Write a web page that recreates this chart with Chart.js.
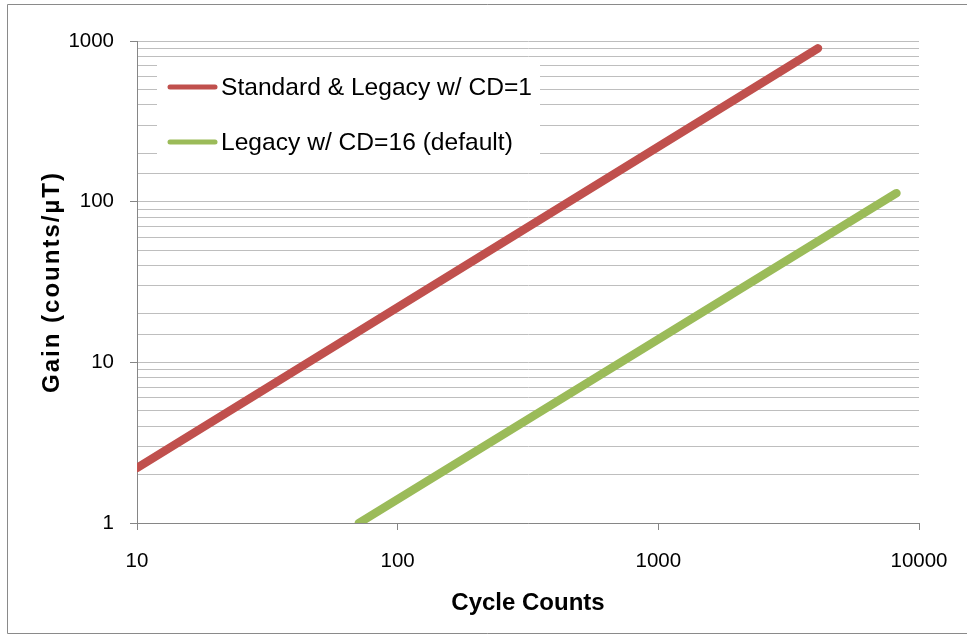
<!DOCTYPE html>
<html>
<head>
<meta charset="utf-8">
<script src="https://cdn.jsdelivr.net/npm/chart.js@4.4.0/dist/chart.umd.min.js"></script>
<style>
  html, body { margin: 0; padding: 0; background: #fff; }
  #wrap { width: 967px; height: 635px; }
</style>
</head>
<body>
<div id="wrap"><canvas id="myChart" width="967" height="635"></canvas></div>
<script>
// values (log-log, gain grows 1:1 with cycle counts)
const seriesNames = ['Standard & Legacy w/ CD=1', 'Legacy w/ CD=16 (default)'];
const seriesColors = ['#C0504D', '#9BBB59'];
const cd1Cycles = [10, 4096];
const cd1Gain = [2.2, 900];
const cd16Cycles = [71, 8192];
const cd16Gain = [1, 113];
const xTicks = [10, 100, 1000, 10000];
const yTicks = [1, 10, 100, 1000];

const FONT = "'Liberation Sans', Arial, sans-serif";
const isDecade = (v) => {
  const l = Math.log10(v);
  return Math.abs(l - Math.round(l)) < 1e-9;
};

const toPoints = (xs, ys) => xs.map((x, i) => ({ x: x, y: ys[i] }));

// frame around the whole picture
const framePlugin = {
  id: 'frame',
  beforeDraw(chart) {
    const c = chart.ctx;
    c.save();
    c.fillStyle = '#fff';
    c.fillRect(0, 0, chart.width, chart.height);
    c.strokeStyle = '#8a8a8a';
    c.lineWidth = 1;
    c.beginPath();
    c.moveTo(967, 4.5);
    c.lineTo(7.5, 4.5);
    c.lineTo(7.5, 633.5);
    c.lineTo(967, 633.5);
    c.stroke();
    c.restore();

    // the y title is set a bit wider in the original
    const ys = chart.scales.y;
    if (ys && !ys._spaced) {
      const orig = ys.drawTitle;
      ys.drawTitle = function () {
        this.ctx.save();
        this.ctx.letterSpacing = '2px';
        orig.call(this);
        this.ctx.restore();
      };
      ys._spaced = true;
    }
  },
};

// legend box sitting inside the plot, covering the gridlines
const legendPlugin = {
  id: 'boxLegend',
  beforeDatasetsDraw(chart) {
    const c = chart.ctx;
    c.save();
    c.fillStyle = '#fff';
    c.fillRect(157, 61, 383, 107);
    chart.data.datasets.forEach((ds, i) => {
      const y = 87 + i * 55;
      c.strokeStyle = ds.borderColor;
      c.lineWidth = 5;
      c.lineCap = 'round';
      c.beginPath();
      c.moveTo(170, y);
      c.lineTo(215, y);
      c.stroke();
      c.fillStyle = '#000';
      c.font = '24.6px ' + FONT;
      c.textBaseline = 'middle';
      c.fillText(ds.label, 221, y + 1);
    });
    c.restore();
  },
};

const ctx = document.getElementById('myChart').getContext('2d');
const myChart = new Chart(ctx, {
  type: 'line',
  data: {
    datasets: [
      {
        label: seriesNames[0],
        data: toPoints(cd1Cycles, cd1Gain),
        borderColor: seriesColors[0],
      },
      {
        label: seriesNames[1],
        data: toPoints(cd16Cycles, cd16Gain),
        borderColor: seriesColors[1],
      },
    ],
  },
  options: {
    responsive: false,
    animation: false,
    layout: { padding: { top: 41, right: 48, bottom: 0, left: 0 } },
    elements: {
      line: { borderWidth: 8.5, borderCapStyle: 'round', tension: 0 },
      point: { radius: 0 },
    },
    plugins: {
      legend: { display: false },
      tooltip: { enabled: false },
    },
    scales: {
      x: {
        type: 'logarithmic',
        min: xTicks[0],
        max: xTicks[xTicks.length - 1],
        afterFit: (s) => { s.height = 112; },
        border: { color: '#868686', width: 1 },
        grid: {
          drawOnChartArea: false,
          tickLength: 7,
          tickColor: (c) => (isDecade(c.tick.value) ? '#868686' : 'rgba(0,0,0,0)'),
        },
        ticks: {
          autoSkip: false,
          maxRotation: 0,
          padding: 19,
          color: '#000',
          font: { family: FONT, size: 20.5 },
          callback: (v) => (xTicks.includes(v) ? String(v) : ''),
        },
        title: {
          display: true,
          text: 'Cycle Counts',
          color: '#000',
          font: { family: FONT, size: 24, weight: 'bold' },
          padding: { top: 0, bottom: 17 },
        },
      },
      y: {
        type: 'logarithmic',
        min: yTicks[0],
        max: yTicks[yTicks.length - 1],
        afterFit: (s) => { s.width = 137; },
        border: { color: '#868686', width: 1 },
        grid: {
          color: '#BEBEBE',
          lineWidth: 1,
          tickLength: 7,
          tickColor: (c) => (isDecade(c.tick.value) ? '#868686' : 'rgba(0,0,0,0)'),
        },
        ticks: {
          autoSkip: false,
          padding: 16,
          color: '#000',
          font: { family: FONT, size: 20.5 },
          callback: (v) => (yTicks.includes(v) ? String(v) : ''),
        },
        title: {
          display: true,
          text: 'Gain (counts/µT)',
          color: '#000',
          font: { family: FONT, size: 24, weight: 'bold' },
          padding: { top: 38, bottom: 0 },
        },
      },
    },
  },
  plugins: [framePlugin, legendPlugin],
});
</script>
</body>
</html>
